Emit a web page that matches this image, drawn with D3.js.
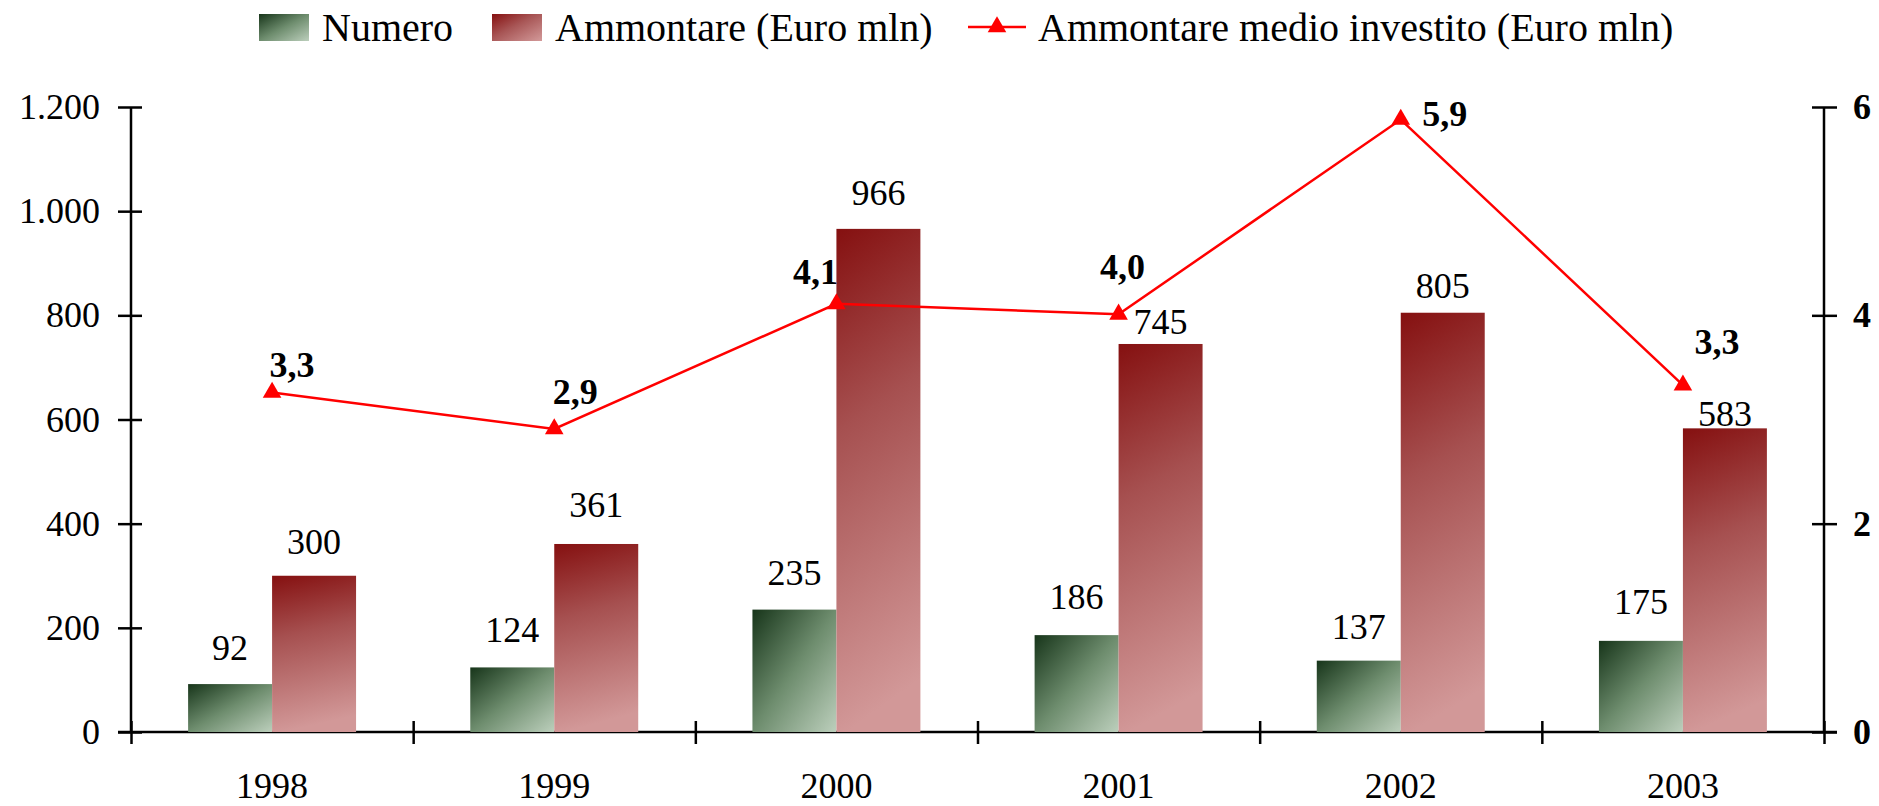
<!DOCTYPE html>
<html>
<head>
<meta charset="utf-8">
<script src="https://cdn.jsdelivr.net/npm/d3@7"></script>
<style>
  body { margin: 0; background: #fff; }
  text { font-family: "Liberation Serif", "Times New Roman", serif; fill: #000; }
</style>
</head>
<body>
<svg id="chart" width="1879" height="806"></svg>
<script>
var years = ["1998", "1999", "2000", "2001", "2002", "2003"];
var numero = [92, 124, 235, 186, 137, 175];
var ammontare = [300, 361, 966, 745, 805, 583];
var medio = [3.26, 2.91, 4.11, 4.01, 5.88, 3.33];
var leftTicks = [0, 200, 400, 600, 800, 1000, 1200];
var rightTicks = [0, 2, 4, 6];
var seriesNames = ["Numero", "Ammontare (Euro mln)", "Ammontare medio investito (Euro mln)"];

var svg = d3.select("#chart"),
    width = +svg.attr("width"),
    height = +svg.attr("height"),
    margin = {top: 107, right: 55, bottom: 74, left: 131};

var it = d3.formatLocale({decimal: ",", thousands: ".", grouping: [3], currency: ["", "€"]});
var fmtInt = it.format(",d"),
    fmtDec = it.format(".1f");

// gradients for the bars
var defs = svg.append("defs");
function grad(id, x2, y2, stops) {
    var g = defs.append("linearGradient").attr("id", id)
        .attr("x1", 0).attr("y1", 0).attr("x2", x2).attr("y2", y2);
    stops.forEach(function(s) {
        g.append("stop").attr("offset", s[0]).attr("stop-color", s[1]);
    });
}
grad("gGreen", 1, 1, [["0%", "#17351a"], ["50%", "#6e8d6e"], ["100%", "#bccfbc"]]);
grad("gRed", 0.12, 1, [["0%", "#851010"], ["40%", "#a65050"], ["100%", "#d29898"]]);
grad("gRedLeg", 1, 1, [["0%", "#851010"], ["45%", "#a85656"], ["100%", "#d39a9a"]]);

var x = d3.scaleBand()
    .domain(years)
    .range([margin.left, width - margin.right])
    .padding(0);

var x1 = d3.scaleBand()
    .domain(["numero", "ammontare"])
    .range([0, x.bandwidth()])
    .paddingInner(0)
    .paddingOuter(0.68);

var y = d3.scaleLinear()
    .domain([0, 1200])
    .range([height - margin.bottom, margin.top]);

var y2 = d3.scaleLinear()
    .domain([0, 6])
    .range([height - margin.bottom, margin.top]);

// category edges for the x-axis ticks
var xEdge = d3.scaleLinear()
    .domain([0, years.length])
    .range(x.range());

// left axis
var gLeft = svg.append("g")
    .attr("transform", "translate(" + margin.left + ",0)")
    .call(d3.axisLeft(y).tickValues(leftTicks).tickFormat(fmtInt).tickSize(13).tickPadding(18));
gLeft.selectAll(".tick line").attr("x2", -13).attr("x1", 11);
gLeft.select(".domain").attr("d", "M0," + y(1200) + "V" + y(0));

// right axis
var gRight = svg.append("g")
    .attr("transform", "translate(" + (width - margin.right) + ",0)")
    .call(d3.axisRight(y2).tickValues(rightTicks).tickFormat(d3.format("d")).tickSize(13).tickPadding(16));
gRight.selectAll(".tick line").attr("x1", -12);
gRight.select(".domain").attr("d", "M0," + y2(6) + "V" + y2(0));
gRight.selectAll(".tick text").style("font-weight", "bold");

// x axis
var gBottom = svg.append("g")
    .attr("transform", "translate(0," + y(0) + ")")
    .call(d3.axisBottom(xEdge).ticks(years.length).tickFormat("").tickSize(12));
gBottom.selectAll(".tick line").attr("y1", -11);
gBottom.select(".domain").attr("d", "M" + (margin.left - 13) + ",0H" + (width - margin.right + 13));

svg.append("g")
    .selectAll("text")
    .data(years)
    .enter().append("text")
    .attr("x", function(d) { return x(d) + x.bandwidth() / 2; })
    .attr("y", y(0) + 66)
    .attr("text-anchor", "middle")
    .style("font-size", "36px")
    .text(function(d) { return d; });

[gLeft, gRight, gBottom].forEach(function(g) {
    g.selectAll("path, line").attr("stroke", "#000").attr("stroke-width", 2.5);
    g.selectAll(".tick text").style("font-size", "36px").style("font-family", "'Liberation Serif', serif").attr("fill", "#000");
});

// bars
var groups = svg.append("g")
    .selectAll("g")
    .data(years)
    .enter().append("g")
    .attr("transform", function(d) { return "translate(" + x(d) + ",0)"; });

groups.append("rect")
    .attr("x", x1("numero"))
    .attr("width", x1.bandwidth())
    .attr("y", function(d, i) { return y(numero[i]); })
    .attr("height", function(d, i) { return y(0) - y(numero[i]); })
    .attr("fill", "url(#gGreen)");

groups.append("rect")
    .attr("x", x1("ammontare"))
    .attr("width", x1.bandwidth())
    .attr("y", function(d, i) { return y(ammontare[i]); })
    .attr("height", function(d, i) { return y(0) - y(ammontare[i]); })
    .attr("fill", "url(#gRed)");

// bar labels (gap above the bar, some were moved by hand in the original)
var numGap = [24, 25, 25, 26, 22, 27];
var ammGap = [22, 27, 24, 10, 15, 2];

groups.append("text")
    .attr("x", x1("numero") + x1.bandwidth() / 2)
    .attr("y", function(d, i) { return y(numero[i]) - numGap[i]; })
    .attr("text-anchor", "middle")
    .style("font-size", "36px")
    .text(function(d, i) { return fmtInt(numero[i]); });

groups.append("text")
    .attr("x", x1("ammontare") + x1.bandwidth() / 2)
    .attr("y", function(d, i) { return y(ammontare[i]) - ammGap[i]; })
    .attr("text-anchor", "middle")
    .style("font-size", "36px")
    .text(function(d, i) { return fmtInt(ammontare[i]); });

// line
var cx = function(d, i) { return x(years[i]) + x.bandwidth() / 2; };
var line = d3.line()
    .x(cx)
    .y(function(d) { return y2(d); });

svg.append("path")
    .datum(medio)
    .attr("d", line)
    .attr("fill", "none")
    .attr("stroke", "#ff0000")
    .attr("stroke-width", 2.5);

var tri = d3.symbol().type(d3.symbolTriangle).size(150);
svg.append("g")
    .selectAll("path")
    .data(medio)
    .enter().append("path")
    .attr("d", tri)
    .attr("transform", function(d, i) { return "translate(" + cx(d, i) + "," + y2(d) + ")"; })
    .attr("fill", "#ff0000");

var lineShift = [[20, -15], [21, -25], [-21, -20], [4, -35], [44, 6], [34, -31]];
svg.append("g")
    .selectAll("text")
    .data(medio)
    .enter().append("text")
    .attr("x", function(d, i) { return cx(d, i) + lineShift[i][0]; })
    .attr("y", function(d, i) { return y2(d) + lineShift[i][1]; })
    .attr("text-anchor", "middle")
    .style("font-size", "36px")
    .style("font-weight", "bold")
    .text(function(d) { return fmtDec(d); });

// legend
var legend = svg.append("g");
var legY = 27;

legend.append("rect").attr("x", 259).attr("y", 14).attr("width", 50).attr("height", 27).attr("fill", "url(#gGreen)");
legend.append("text").attr("x", 322).attr("y", legY).attr("dy", "0.35em").style("font-size", "40px").text(seriesNames[0]);

legend.append("rect").attr("x", 492).attr("y", 14).attr("width", 50).attr("height", 27).attr("fill", "url(#gRedLeg)");
legend.append("text").attr("x", 555).attr("y", legY).attr("dy", "0.35em").style("font-size", "40px").text(seriesNames[1]);

legend.append("line").attr("x1", 968).attr("x2", 1026).attr("y1", legY).attr("y2", legY)
    .attr("stroke", "#ff0000").attr("stroke-width", 2.5);
legend.append("path").attr("d", tri).attr("transform", "translate(997," + legY + ")").attr("fill", "#ff0000");
legend.append("text").attr("x", 1038).attr("y", legY).attr("dy", "0.35em").style("font-size", "40px").text(seriesNames[2]);
</script>
</body>
</html>
